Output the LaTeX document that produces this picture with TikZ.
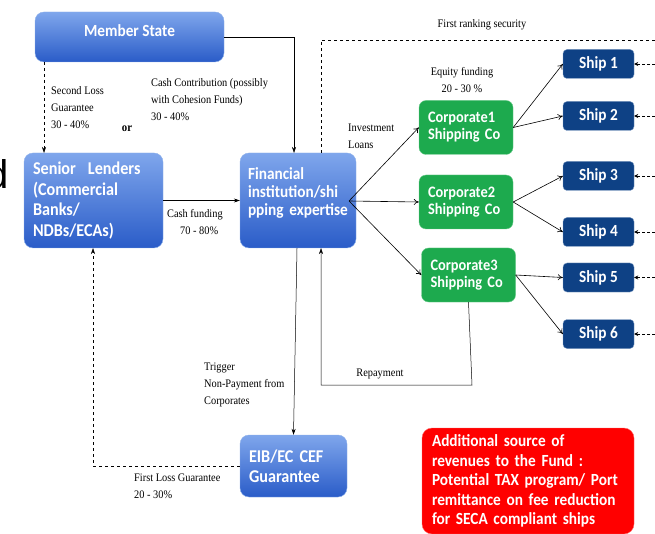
\documentclass[tikz,border=0pt]{standalone}
\usepackage{fontspec}
\setmainfont{Liberation Serif}
\newfontfamily\labelfont[FakeStretch=0.9]{Liberation Serif}
\newfontfamily\boxfont[FakeStretch=0.9]{Carlito}
\newfontfamily\bigsans{Liberation Sans}
\usetikzlibrary{arrows.meta}

\definecolor{boxtop}{HTML}{7FA6EC}
\definecolor{boxbot}{HTML}{2A5CC8}
\definecolor{boxline}{HTML}{8DB0EA}
\definecolor{corpgreen}{HTML}{1DAA4E}
\definecolor{corpline}{HTML}{6CCB8C}
\definecolor{shipblue}{HTML}{0E4185}
\definecolor{shipline}{HTML}{7E9CC4}
\definecolor{notered}{HTML}{FF0000}

\begin{document}
\begin{tikzpicture}
[
  x=1pt, y=-1pt,
  bluebox/.style ={rounded corners=9pt, draw=boxline, top color=boxtop, bottom color=boxbot,
                   text=white, font=\boxfont\bfseries, inner xsep=9pt},
  corpbox/.style ={rounded corners=7pt, draw=corpline, fill=corpgreen, text=white,
                   font=\boxfont\bfseries\fontsize{16}{17}\selectfont, align=left,
                   minimum height=54pt, text width=76pt, inner xsep=9pt},
  shipbox/.style ={rounded corners=4pt, draw=shipline, fill=shipblue, text=white,
                   font=\boxfont\bfseries\fontsize{17}{18}\selectfont,
                   minimum width=71pt, minimum height=29pt, inner sep=0pt},
  redbox/.style  ={rounded corners=10pt, draw=red!60, fill=notered, text=white,
                   font=\boxfont\bfseries\fontsize{17}{19.5}\selectfont, align=left,
                   text width=192pt, minimum height=106pt, inner xsep=10pt},
  lbl/.style     ={font=\labelfont\fontsize{11.5}{17}\selectfont, align=left, inner sep=0pt},
  flow/.style    ={-{Stealth[length=6pt,width=4pt]}, line width=0.5pt},
  feed/.style    ={-{To[length=5pt,width=6pt]}, line width=0.6pt},
  guar/.style    ={dashed, line width=0.5pt, -{Stealth[length=6pt,width=4pt]}},
]
\useasboundingbox (0,0) rectangle (655,534);

\node[font=\bigsans\fontsize{40}{40}\selectfont, anchor=west, inner sep=0pt] (cut) at (-14,174) {d};

\node[bluebox, minimum width=189pt, minimum height=50pt, text depth=12pt,
      font=\boxfont\bfseries\fontsize{17}{18}\selectfont] (member) at (129.5,37) {Member State};
\node[bluebox, text width=121pt, minimum height=95pt, align=left,
      font=\boxfont\bfseries\fontsize{18}{20.5}\selectfont] (senior) at (93.5,200.5)
      {Senior\ \ Lenders\\(Commercial\\Banks/\\NDBs/ECAs)};
\node[bluebox, text width=100pt, minimum height=95pt, align=left, inner xsep=8pt,
      font=\boxfont\bfseries\fontsize{17}{18}\selectfont] (fin) at (298,200.5)
      {Financial\\institution/shi\\pping expertise\\\mbox{}};

\node[corpbox] (corp1) at (466,127.5) {Corporate1\\Shipping Co};
\node[corpbox] (corp2) at (466,202) {Corporate2\\Shipping Co};
\node[corpbox] (corp3) at (468.5,275) {Corporate3\\Shipping Co\\[8pt]};

\foreach \i/\y in {1/64,2/116,3/176,4/232,5/277.5,6/334} {
  \node[shipbox] (ship\i) at (598.5,\y) {Ship \i};
  \coordinate (edge\i) at (660,\y);
  \draw[dash pattern=on 3pt off 2pt, line width=0.6pt, -{Stealth[length=4pt,width=4pt]}] (edge\i) -- (ship\i.east);
}

\node[bluebox, text width=89pt, minimum height=62pt, align=left,
      font=\boxfont\bfseries\fontsize{18}{20}\selectfont] (eib) at (293.5,466) {EIB/EC CEF\\Guarantee};

\node[redbox] (note) at (528,481) {Additional source of\\revenues to the Fund :\\Potential TAX program/ Port\\remittance on fee reduction\\for SECA compliant ships};

% funding flows
\draw[flow] (member.east) -| (294,153);
\draw[guar] (44,62) -- (44,153);
\draw[flow] (senior.east) -- (fin.west);
\draw[flow] (fin.south -| 297,0) -- (eib.north);
\draw[flow] (corp3.south) -- (472,385) -- (321,385) -- (321,248);
\draw[guar] (eib.west) -- (93,466) -- (93,248);
\draw[dashed, line width=0.5pt] (321,153) -- (321,40) -- (660,40);

\coordinate (fanout) at (349,201);
\foreach \c in {corp1,corp2,corp3}
  \draw[feed] (fanout) -- (\c.west);
\draw[feed] (corp1.east) -- (ship1.west);
\draw[feed] (corp1.east) -- (ship2.west);
\draw[feed] (corp2.east) -- (ship3.west);
\draw[feed] (corp2.east) -- (ship4.west);
\draw[feed] (corp3.east) -- (ship5.west);
\draw[feed] (corp3.east) -- (ship6.west);

% labels
\node[lbl, anchor=north west] (secloss) at (51,86) {Second Loss\\Guarantee\\30 - 40\%};
\node[lbl, font=\labelfont\bfseries\fontsize{12}{14}\selectfont] (orword) at (127,129) {or};
\node[lbl, anchor=north west] (cashcon) at (151,78) {Cash Contribution (possibly\\with Cohesion Funds)\\30 - 40\%};
\node[lbl, anchor=north west] (cashfund) at (167,209) {Cash funding\\\hspace*{13pt}70 - 80\%};
\node[lbl, anchor=north west] (invest) at (348,124) {Investment\\Loans};
\node[lbl, align=center] (equity) at (462,80) {Equity funding\\20 - 30 \%};
\node[lbl] (firstrank) at (482,25) {First ranking security};
\node[lbl, anchor=north west] (trigger) at (204,363) {Trigger\\Non-Payment from\\Corporates};
\node[lbl] (repay) at (380,374) {Repayment};
\node[lbl, anchor=north west] (firstloss) at (134,474) {First Loss Guarantee\\20 - 30\%};

\end{tikzpicture}
\end{document}
